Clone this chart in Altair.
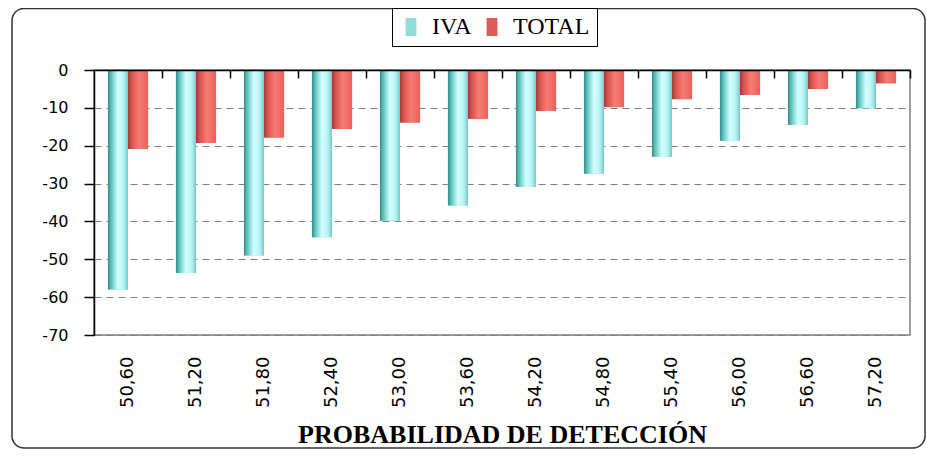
import altair as alt
import pandas as pd

categories = ["50,60", "51,20", "51,80", "52,40", "53,00", "53,60",
              "54,20", "54,80", "55,40", "56,00", "56,60", "57,20"]
iva = [-58.0, -53.6, -49.0, -44.2, -39.8, -35.8, -30.9, -27.4, -22.9, -18.7, -14.5, -10.1]
total = [-20.9, -19.3, -17.8, -15.6, -13.9, -12.9, -10.8, -9.8, -7.7, -6.6, -5.0, -3.5]
series_names = ["IVA", "TOTAL"]
series_colors = ["#8fdedc", "#e05a55"]
y_ticks = [0, -10, -20, -30, -40, -50, -60, -70]
x_title = "PROBABILIDAD DE DETECCIÓN"

rows = []
for c, a, b in zip(categories, iva, total):
    rows.append({"cat": c, "serie": "IVA", "valor": a})
    rows.append({"cat": c, "serie": "TOTAL", "valor": b})
df = pd.DataFrame(rows)

W, H = 816, 265
P_IN, P_OUT = 0.41, 0.205
STEP = W / (len(categories) - P_IN + 2 * P_OUT)
HALF_GAP = P_IN * STEP / 2

xscale = alt.Scale(paddingInner=P_IN, paddingOuter=P_OUT)
xoff = alt.XOffset("serie:N", scale=alt.Scale(domain=series_names, paddingInner=0, paddingOuter=0))

y_axis = alt.Axis(values=y_ticks, tickCount=len(y_ticks) + 2, labelExpr="'' + datum.value",
                  labelFont="DejaVu Sans", labelFontSize=16, labelColor="black",
                  labelPadding=16, tickSize=10, labelOverlap=False, labelFlush=False,
                  tickColor="black", tickWidth=1.5, domainColor="black", domainWidth=1.5,
                  grid=True, gridColor="#808080", gridDash=[7, 5], gridWidth=1)

grad_iva = alt.Gradient(gradient="linear", x1=0, x2=1, y1=0, y2=0, stops=[
    alt.GradientStop(color="#2f8f8a", offset=0),
    alt.GradientStop(color="#62c6c2", offset=0.18),
    alt.GradientStop(color="#d6ffff", offset=0.5),
    alt.GradientStop(color="#b2f2f2", offset=0.8),
    alt.GradientStop(color="#6fc9c6", offset=1),
])
grad_total = alt.Gradient(gradient="linear", x1=0, x2=1, y1=0, y2=0, stops=[
    alt.GradientStop(color="#a43a35", offset=0),
    alt.GradientStop(color="#d85550", offset=0.2),
    alt.GradientStop(color="#f87c74", offset=0.55),
    alt.GradientStop(color="#e8625b", offset=1),
])

frame = alt.Chart(pd.DataFrame({"k": [0]})).mark_rect(
    fillOpacity=0, stroke="#333333", strokeWidth=1.5, cornerRadius=12
).encode(x=alt.value(-82), x2=alt.value(831), y=alt.value(-61.5), y2=alt.value(378))

base = alt.Chart(df).mark_bar().encode(
    x=alt.X("cat:N", sort=categories, scale=xscale, title=x_title,
            axis=alt.Axis(orient="bottom", labelAngle=270, labelFont="DejaVu Sans",
                          labelFontSize=18, labelColor="black", labelPadding=21,
                          domain=False, ticks=False, grid=False,
                          titleFont="Liberation Serif", titleFontSize=26,
                          titleFontWeight="bold", titleColor="black", titlePadding=14)),
    xOffset=xoff,
    y=alt.Y("valor:Q", scale=alt.Scale(domain=[-70, 0], nice=False), title=None, axis=y_axis),
    color=alt.Color("serie:N", scale=alt.Scale(domain=series_names, range=series_colors),
                    legend=alt.Legend(title=None, orient="none", legendX=298, legendY=-62,
                                      direction="horizontal", strokeColor="black",
                                      fillColor="white", padding=7,
                                      labelFont="Liberation Serif", labelFontSize=24,
                                      labelColor="black",
                                      symbolType="M-0.6,-1H0.6V1H-0.6Z",
                                      symbolSize=324, symbolStrokeWidth=0,
                                      columnPadding=8, labelOffset=9)),
)

iva_layer = alt.Chart(df).transform_filter(alt.datum.serie == "IVA").mark_bar(fill=grad_iva).encode(
    x=alt.X("cat:N", sort=categories, title=None,
            axis=alt.Axis(orient="bottom", offset=-H, labels=False, domain=True,
                          domainColor="black", domainWidth=1.5, ticks=True,
                          bandPosition=1, tickOffset=HALF_GAP, tickSize=8,
                          tickColor="black", tickWidth=1.5, grid=False, zindex=1)),
    xOffset=xoff,
    y=alt.Y("valor:Q"),
)

total_layer = alt.Chart(df).transform_filter(alt.datum.serie == "TOTAL").mark_bar(fill=grad_total).encode(
    x=alt.X("cat:N", sort=categories, axis=None),
    xOffset=xoff,
    y=alt.Y("valor:Q"),
)

chart = alt.layer(frame, base, iva_layer, total_layer).resolve_axis(x="independent").properties(
    width=W, height=H,
    padding={"left": 86, "top": 62, "right": 16, "bottom": 114},
    autosize=alt.AutoSizeParams(type="none"),
    background="white",
).configure_view(stroke="#808080", strokeWidth=1.5)

chart.save("out.html", embed_options={"renderer": "svg", "actions": False})
